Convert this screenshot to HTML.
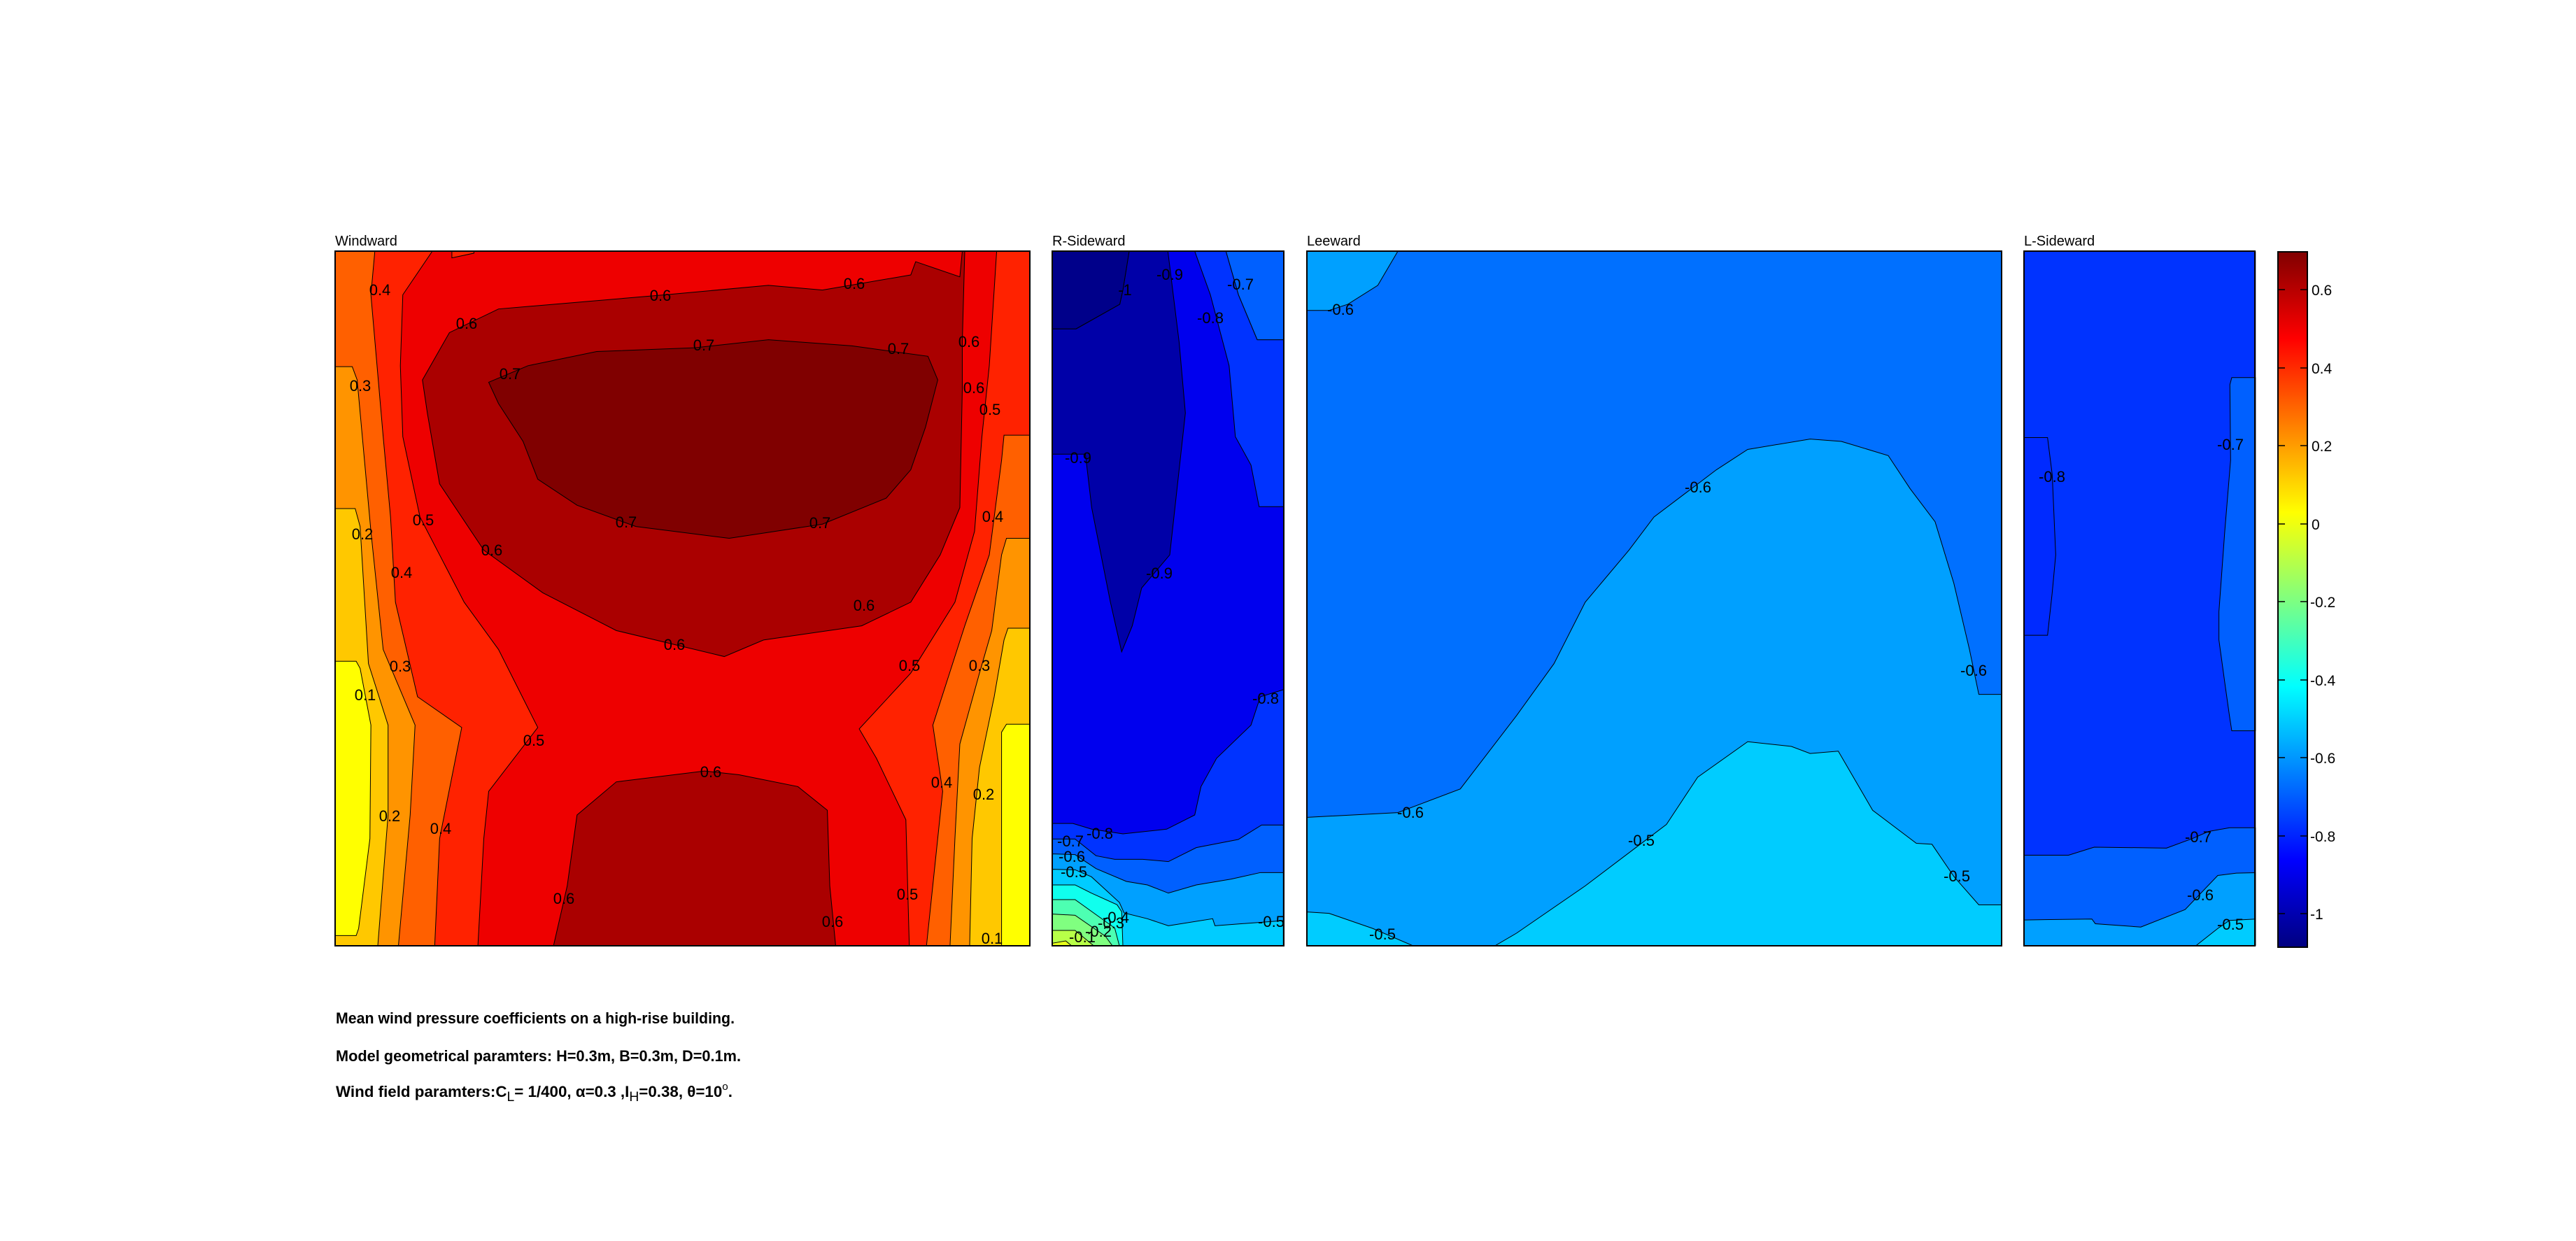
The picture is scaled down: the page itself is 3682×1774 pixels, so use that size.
<!DOCTYPE html>
<html><head><meta charset="utf-8"><style>
html,body{margin:0;padding:0;background:#fff;}
svg{display:block;}
text{font-family:"Liberation Sans",Arial,sans-serif;}
.cl{font-size:22px;fill:#000;text-anchor:middle;}
</style></head><body>
<svg width="3682" height="1774" viewBox="0 0 3682 1774" xmlns="http://www.w3.org/2000/svg">
<defs>
<clipPath id="cw"><rect x="27" y="58" width="1415" height="1469"/></clipPath>
<clipPath id="cr"><rect x="27" y="58" width="370" height="1469"/></clipPath>
<clipPath id="cl"><rect x="435" y="58" width="1112" height="1469"/></clipPath>
<clipPath id="cs"><rect x="40" y="58" width="993" height="1469"/></clipPath>
<clipPath id="cr6"><rect x="12" y="0" width="991" height="606"/></clipPath>
<linearGradient id="jet" x1="0" y1="0" x2="0" y2="1">
<stop offset="0" stop-color="#800000"/><stop offset="0.125" stop-color="#ff0000"/><stop offset="0.375" stop-color="#ffff00"/><stop offset="0.625" stop-color="#00ffff"/><stop offset="0.875" stop-color="#0000ff"/><stop offset="1" stop-color="#000080"/>
</linearGradient>
</defs>

<!-- Windward -->
<g transform="translate(460,320) scale(0.7015,0.676)">
<g clip-path="url(#cw)" stroke="#000">
<rect x="27" y="58" width="1415" height="1469" fill="#ff2200" vector-effect="non-scaling-stroke"/>
<polygon vector-effect="non-scaling-stroke" fill="#ff6000" points="108,58 100,150 125,450 140,620 150,800 195,1000 285,1065 240,1300 230,1527 27,1527 27,58"/>
<polygon vector-effect="non-scaling-stroke" fill="#ff9400" points="27,302 62,302 72,330 100,650 125,900 190,1060 180,1250 156,1527 27,1527"/>
<polygon vector-effect="non-scaling-stroke" fill="#ffc800" points="27,602 68,602 78,640 95,930 135,1060 135,1250 114,1527 27,1527"/>
<polygon vector-effect="non-scaling-stroke" fill="#ffff00" points="27,925 70,925 78,940 100,1060 98,1300 75,1490 70,1505 27,1505"/>
<polygon vector-effect="non-scaling-stroke" fill="#ff6000" points="1442,447 1390,447 1385,500 1360,700 1310,850 1245,1060 1265,1200 1232,1527 1442,1527"/>
<polygon vector-effect="non-scaling-stroke" fill="#ff9400" points="1442,665 1395,665 1385,700 1365,860 1340,950 1300,1100 1290,1300 1280,1527 1442,1527"/>
<polygon vector-effect="non-scaling-stroke" fill="#ffc800" points="1442,855 1398,855 1390,880 1370,1000 1340,1150 1325,1300 1320,1527 1442,1527"/>
<polygon vector-effect="non-scaling-stroke" fill="#ffff00" points="1442,1058 1395,1058 1385,1075 1385,1527 1442,1527"/>
<polygon vector-effect="non-scaling-stroke" fill="#ee0000" points="225,58 165,150 160,300 165,450 200,620 240,700 290,800 360,900 440,1065 340,1200 330,1300 318,1527 1197,1527 1190,1260 1130,1130 1095,1068 1200,950 1290,800 1330,650 1345,450 1360,300 1375,58"/>
<polygon vector-effect="non-scaling-stroke" fill="#ff2200" points="265,58 265,72 310,62 310,58"/>
<polygon vector-effect="non-scaling-stroke" fill="#aa0000" points="205,330 260,230 360,180 700,150 910,130 1020,140 1200,108 1210,80 1300,112 1305,58 1310,58 1305,250 1305,350 1300,600 1260,700 1200,800 1100,850 900,880 820,915 720,890 600,860 450,780 330,690 240,550 215,400"/>
<polygon vector-effect="non-scaling-stroke" fill="#800000" points="340,335 420,300 560,270 760,262 910,245 1080,258 1235,280 1255,330 1230,430 1200,520 1150,580 1020,635 830,665 640,640 520,595 440,540 410,460 360,380"/>
<polygon vector-effect="non-scaling-stroke" fill="#aa0000" points="520,1250 600,1180 780,1157 850,1165 970,1190 1030,1240 1035,1400 1047,1527 472,1527 500,1400"/>
</g>
</g>
<rect x="479" y="359" width="993" height="993" fill="none" stroke="#000" stroke-width="2"/>

<!-- R-Sideward -->
<g transform="translate(1480,320) scale(0.893,0.676)">
<g clip-path="url(#cr)" stroke="#000">
<rect x="27" y="58" width="370" height="1469" fill="#0000ee"/>
<polygon vector-effect="non-scaling-stroke" fill="#0000a8" points="150,58 212,58 230,250 240,400 215,700 170,770 155,850 138,905 120,800 90,600 80,487 27,487 27,222 65,222 135,170 140,140"/>
<polygon vector-effect="non-scaling-stroke" fill="#00008a" points="27,58 150,58 140,140 135,170 65,222 27,222"/>
<polygon vector-effect="non-scaling-stroke" fill="#0033ff" points="255,58 305,58 325,150 355,245 397,245 397,598 358,598 345,510 320,450 310,300 280,150"/>
<polygon vector-effect="non-scaling-stroke" fill="#0060ff" points="305,58 397,58 397,245 355,245 325,150"/>
<polygon vector-effect="non-scaling-stroke" fill="#0033ff" points="397,985 360,1000 345,1060 290,1130 265,1190 255,1250 210,1280 140,1290 90,1280 60,1268 27,1268 27,1527 397,1527"/>
</g>
</g>
<g transform="translate(1500,1150) scale(0.3333)">
<g clip-path="url(#cr6)" stroke="#000">
<polygon vector-effect="non-scaling-stroke" fill="#0060ff" points="12,148 110,148 200,220 280,235 400,235 510,245 630,185 810,150 910,88 1003,88 1003,606 12,606"/>
<polygon vector-effect="non-scaling-stroke" fill="#00a0ff" points="12,212 110,215 200,275 330,330 420,345 510,380 630,345 780,320 905,292 1003,292 1003,606 12,606"/>
<polygon vector-effect="non-scaling-stroke" fill="#00ccff" points="12,278 110,280 180,310 300,420 320,465 420,490 510,520 700,490 710,520 1003,498 1003,606 12,606"/>
<polygon vector-effect="non-scaling-stroke" fill="#10ffee" points="12,345 110,345 180,380 290,430 310,460 315,606 12,606"/>
<polygon vector-effect="non-scaling-stroke" fill="#4dffb2" points="12,408 110,408 280,530 300,606 12,606"/>
<polygon vector-effect="non-scaling-stroke" fill="#80ff80" points="12,470 110,475 240,565 270,606 12,606"/>
<polygon vector-effect="non-scaling-stroke" fill="#b8ff48" points="12,540 110,540 190,606 12,606"/>
<polygon vector-effect="non-scaling-stroke" fill="#e6ff1a" points="12,595 70,585 95,606 12,606"/>
</g>
</g>
<rect x="1504" y="359" width="331" height="993" fill="none" stroke="#000" stroke-width="2"/>

<!-- Leeward -->
<g transform="translate(1480,320) scale(0.893,0.676)">
<g clip-path="url(#cl)" stroke="#000">
<rect x="435" y="58" width="1112" height="1469" fill="#0070ff"/>
<polygon vector-effect="non-scaling-stroke" fill="#00a0ff" points="435,58 580,58 548,130 500,170 470,183 435,183"/>
<polygon vector-effect="non-scaling-stroke" fill="#00a0ff" points="435,1255 580,1245 680,1195 770,1040 830,930 880,800 950,690 990,620 1040,570 1090,520 1140,477 1240,455 1290,460 1365,490 1400,560 1440,630 1470,760 1495,900 1510,995 1547,995 1547,1527 435,1527"/>
<polygon vector-effect="non-scaling-stroke" fill="#00ccff" points="735,1527 770,1500 880,1400 960,1320 1010,1270 1060,1170 1140,1095 1210,1105 1240,1120 1285,1115 1340,1240 1410,1310 1435,1312 1470,1380 1510,1440 1547,1440 1547,1527"/>
<polygon vector-effect="non-scaling-stroke" fill="#00ccff" points="435,1455 470,1458 540,1490 605,1527 435,1527"/>
</g>
</g>
<rect x="1868" y="359" width="993" height="993" fill="none" stroke="#000" stroke-width="2"/>

<!-- L-Sideward -->
<g transform="translate(2880,320) scale(0.3333,0.676)">
<g clip-path="url(#cs)" stroke="#000">
<rect x="40" y="58" width="993" height="1469" fill="#0033ff"/>
<polygon vector-effect="non-scaling-stroke" fill="#002aff" points="40,452 140,452 160,530 175,700 160,780 140,870 40,870"/>
<polygon vector-effect="non-scaling-stroke" fill="#0060ff" points="1033,325 930,325 922,340 925,500 900,650 875,820 875,880 900,970 920,1040 930,1072 1033,1072"/>
<polygon vector-effect="non-scaling-stroke" fill="#0060ff" points="40,1335 230,1335 340,1318 650,1320 760,1300 830,1285 920,1277 1033,1277 1033,1527 40,1527"/>
<polygon vector-effect="non-scaling-stroke" fill="#00a0ff" points="40,1472 330,1470 345,1480 540,1487 730,1450 870,1378 950,1373 1033,1372 1033,1527 40,1527"/>
<polygon vector-effect="non-scaling-stroke" fill="#00ccff" points="775,1527 870,1490 920,1473 1033,1470 1033,1527"/>
</g>
</g>
<rect x="2893" y="359" width="330" height="993" fill="none" stroke="#000" stroke-width="2"/>

<!-- Colorbar -->
<rect x="3256" y="360" width="42" height="994" fill="url(#jet)" stroke="#000" stroke-width="2"/>
<g stroke="#000" stroke-width="1.5">
<line x1="3256" y1="414" x2="3266" y2="414"/><line x1="3288" y1="414" x2="3298" y2="414"/>
<line x1="3256" y1="526" x2="3266" y2="526"/><line x1="3288" y1="526" x2="3298" y2="526"/>
<line x1="3256" y1="637" x2="3266" y2="637"/><line x1="3288" y1="637" x2="3298" y2="637"/>
<line x1="3256" y1="749" x2="3266" y2="749"/><line x1="3288" y1="749" x2="3298" y2="749"/>
<line x1="3256" y1="860" x2="3266" y2="860"/><line x1="3288" y1="860" x2="3298" y2="860"/>
<line x1="3256" y1="972" x2="3266" y2="972"/><line x1="3288" y1="972" x2="3298" y2="972"/>
<line x1="3256" y1="1083" x2="3266" y2="1083"/><line x1="3288" y1="1083" x2="3298" y2="1083"/>
<line x1="3256" y1="1195" x2="3266" y2="1195"/><line x1="3288" y1="1195" x2="3298" y2="1195"/>
<line x1="3256" y1="1306" x2="3266" y2="1306"/><line x1="3288" y1="1306" x2="3298" y2="1306"/>
</g>
<g font-size="21" fill="#000">
<text x="3304" y="422">0.6</text><text x="3304" y="534">0.4</text><text x="3304" y="645">0.2</text><text x="3304" y="757">0</text>
<text x="3302" y="868">-0.2</text><text x="3302" y="980">-0.4</text><text x="3302" y="1091">-0.6</text><text x="3302" y="1203">-0.8</text><text x="3302" y="1314">-1</text>
</g>

<!-- Titles -->
<g font-size="20" fill="#000">
<text x="479" y="351">Windward</text>
<text x="1504" y="351">R-Sideward</text>
<text x="1868" y="351">Leeward</text>
<text x="2893" y="351">L-Sideward</text>
</g>

<!-- Contour labels -->
<g class="cl">
<text x="543" y="422">0.4</text><text x="944" y="430">0.6</text><text x="1221" y="413">0.6</text><text x="667" y="470">0.6</text>
<text x="1006" y="501">0.7</text><text x="1284" y="506">0.7</text><text x="1385" y="496">0.6</text><text x="729" y="542">0.7</text>
<text x="515" y="559">0.3</text><text x="1392" y="562">0.6</text><text x="1415" y="593">0.5</text><text x="605" y="751">0.5</text>
<text x="1419" y="746">0.4</text><text x="895" y="754">0.7</text><text x="1172" y="755">0.7</text><text x="518" y="771">0.2</text>
<text x="703" y="794">0.6</text><text x="574" y="826">0.4</text><text x="1235" y="873">0.6</text><text x="964" y="929">0.6</text>
<text x="572" y="960">0.3</text><text x="1300" y="959">0.5</text><text x="1400" y="959">0.3</text><text x="522" y="1001">0.1</text>
<text x="763" y="1066">0.5</text><text x="1016" y="1111">0.6</text><text x="1346" y="1126">0.4</text><text x="1406" y="1143">0.2</text>
<text x="557" y="1174">0.2</text><text x="630" y="1192">0.4</text><text x="806" y="1292">0.6</text><text x="1297" y="1286">0.5</text>
<text x="1190" y="1325">0.6</text><text x="1418" y="1349">0.1</text>

<text x="1608" y="422">-1</text><text x="1672" y="400">-0.9</text><text x="1773" y="414">-0.7</text><text x="1730" y="462">-0.8</text>
<text x="1541" y="662">-0.9</text><text x="1657" y="827">-0.9</text><text x="1809" y="1006">-0.8</text><text x="1572" y="1199">-0.8</text>
<text x="1530" y="1210">-0.7</text><text x="1532" y="1232">-0.6</text><text x="1535" y="1254">-0.5</text><text x="1595" y="1319">-0.4</text>
<text x="1588" y="1327">-0.3</text><text x="1570" y="1339">-0.2</text><text x="1547" y="1347">-0.1</text><text x="1817" y="1325">-0.5</text>

<text x="1916" y="450">-0.6</text><text x="2427" y="704">-0.6</text><text x="2821" y="966">-0.6</text><text x="2016" y="1169">-0.6</text>
<text x="2346" y="1209">-0.5</text><text x="2797" y="1260">-0.5</text><text x="1976" y="1343">-0.5</text>

<text x="2933" y="689">-0.8</text><text x="3188" y="643">-0.7</text><text x="3142" y="1204">-0.7</text><text x="3145" y="1287">-0.6</text><text x="3188" y="1329">-0.5</text>
</g>

<!-- Caption -->
<g font-size="22" font-weight="bold" fill="#000">
<text x="480" y="1463" textLength="570" lengthAdjust="spacingAndGlyphs">Mean wind pressure coefficients on a high-rise building.</text>
<text x="480" y="1517" textLength="579" lengthAdjust="spacingAndGlyphs">Model geometrical paramters: H=0.3m, B=0.3m, D=0.1m.</text>
<text x="480" y="1568" textLength="567" lengthAdjust="spacingAndGlyphs">Wind field paramters:C<tspan dy="6" font-size="19" font-weight="normal">L</tspan><tspan dy="-6">= 1/400, α=0.3 ,I</tspan><tspan dy="6" font-size="19" font-weight="normal">H</tspan><tspan dy="-6">=0.38, θ=10</tspan><tspan dy="-10" font-size="15" font-weight="normal">o</tspan><tspan dy="10">.</tspan></text>
</g>
</svg>
</body></html>
